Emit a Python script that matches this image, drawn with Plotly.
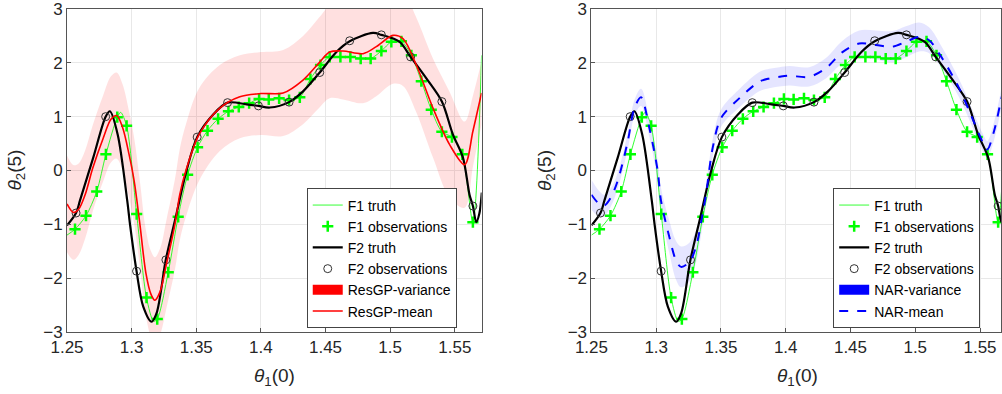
import plotly.graph_objects as go

# ---------------- data ----------------
# F1 observations (green +)
f1_obs_x = [1.2562, 1.2647, 1.2730, 1.2801, 1.2889, 1.2961, 1.3039, 1.3115, 1.3198, 1.3283,
            1.3360, 1.3433, 1.3510, 1.3587, 1.3669, 1.3749, 1.3829, 1.3909, 1.3986, 1.4061,
            1.4141, 1.4218, 1.4301, 1.4383, 1.4461, 1.4532, 1.4615, 1.4692, 1.4772, 1.4849,
            1.4932, 1.5009, 1.5087, 1.5164, 1.5241, 1.5318, 1.5400, 1.5478, 1.5558, 1.5640]
f1_obs_y = [-1.09, -0.84, -0.39, 0.30, 0.99, 0.83, -0.81, -2.36, -2.76, -1.89,
            -0.86, -0.08, 0.43, 0.74, 0.96, 1.10, 1.18, 1.25, 1.33, 1.32,
            1.34, 1.31, 1.36, 1.70, 1.96, 2.11, 2.11, 2.11, 2.08, 2.08,
            2.22, 2.39, 2.40, 2.14, 1.66, 1.13, 0.72, 0.62, 0.30, -0.96]

# F1 truth (thin green line)
f1_x = [1.2500, 1.2562, 1.2647, 1.2730, 1.2801, 1.2889, 1.2915, 1.2961, 1.3039, 1.3115,
        1.3170, 1.3198, 1.3283, 1.3360, 1.3433, 1.3510, 1.3587, 1.3669, 1.3749, 1.3829,
        1.3909, 1.3986, 1.4061, 1.4141, 1.4218, 1.4301, 1.4383, 1.4461, 1.4532, 1.4615,
        1.4692, 1.4772, 1.4849, 1.4932, 1.5009, 1.5087, 1.5164, 1.5241, 1.5318, 1.5400,
        1.5478, 1.5558, 1.5640, 1.5707]
f1_y = [-1.20, -1.09, -0.84, -0.39, 0.30, 0.99, 1.08, 0.83, -0.81, -2.36,
        -2.80, -2.76, -1.89, -0.86, -0.08, 0.43, 0.74, 0.96, 1.10, 1.18,
        1.25, 1.33, 1.32, 1.34, 1.31, 1.36, 1.70, 1.96, 2.11, 2.11,
        2.11, 2.08, 2.08, 2.22, 2.39, 2.40, 2.14, 1.66, 1.13, 0.72,
        0.62, 0.30, -0.96, 2.14]

# F2 observations (black circles)
f2_obs_x = [1.2570, 1.2799, 1.3038, 1.3265, 1.3507, 1.3742, 1.3981, 1.4218, 1.4455, 1.4687,
            1.4932, 1.5158, 1.5400, 1.5640]
f2_obs_y = [-0.79, 1.00, -1.87, -1.66, 0.62, 1.26, 1.20, 1.27, 1.82, 2.41,
            2.52, 2.11, 1.28, -0.66]

# F2 truth (thick black line)
f2_x = [1.2500, 1.2570, 1.2600, 1.2703, 1.2799, 1.2832, 1.2892, 1.2966, 1.2987, 1.3038,
        1.3090, 1.3154, 1.3193, 1.3265, 1.3335, 1.3425, 1.3507, 1.3631, 1.3742, 1.3889,
        1.3981, 1.4069, 1.4218, 1.4326, 1.4455, 1.4584, 1.4687, 1.4867, 1.4932, 1.5073,
        1.5158, 1.5280, 1.5400, 1.5485, 1.5563, 1.5614, 1.5640, 1.5666, 1.5690, 1.5709]
f2_y = [-1.02, -0.79, -0.56, 0.24, 1.00, 1.10, 0.67, -0.56, -0.99, -1.87,
        -2.53, -2.81, -2.65, -1.65, -0.93, 0.00, 0.62, 1.04, 1.26, 1.23,
        1.20, 1.17, 1.27, 1.47, 1.82, 2.20, 2.40, 2.555, 2.52, 2.39,
        2.11, 1.71, 1.28, 0.67, 0.24, -0.45, -0.66, -0.96, -0.80, -0.41]

# ResGP mean and standard deviation
res_x = [1.2500, 1.2550, 1.2590, 1.2640, 1.2700, 1.2780, 1.2840, 1.2884, 1.2930, 1.2980,
         1.3020, 1.3064, 1.3110, 1.3150, 1.3180, 1.3220, 1.3270, 1.3335, 1.3373, 1.3420,
         1.3522, 1.3682, 1.3837, 1.4000, 1.4172, 1.4326, 1.4450, 1.4532, 1.4635, 1.4790,
         1.4893, 1.5022, 1.5099, 1.5202, 1.5331, 1.5460, 1.5576, 1.5640, 1.5692, 1.5707]
res_mean = [-0.62, -0.78, -0.72, -0.45, 0.05, 0.60, 0.95, 1.02, 0.80, 0.30,
            -0.20, -1.00, -1.90, -2.30, -2.41, -2.25, -1.73, -1.00, -0.44, 0.00,
            0.67, 1.16, 1.37, 1.43, 1.44, 1.68, 2.00, 2.20, 2.22, 2.17,
            2.30, 2.51, 2.45, 1.96, 1.16, 0.48, 0.11, 0.73, 1.28, 1.44]
res_std = [0.90, 0.88, 0.85, 0.82, 0.80, 0.80, 0.80, 0.80, 0.80, 0.80,
           0.80, 0.80, 0.80, 0.80, 0.80, 0.80, 0.82, 0.84, 0.85, 0.86,
           0.86, 0.80, 0.77, 0.77, 0.80, 0.82, 0.84, 0.86, 0.90, 0.92,
           0.92, 0.90, 0.88, 0.88, 0.92, 0.98, 0.80, 0.66, 0.60, 0.58]

# NAR mean and standard deviation
nar_x = [1.2500, 1.2560, 1.2600, 1.2650, 1.2703, 1.2780, 1.2832, 1.2883, 1.2947, 1.3011,
         1.3037, 1.3102, 1.3153, 1.3192, 1.3256, 1.3307, 1.3358, 1.3385, 1.3436, 1.3500,
         1.3641, 1.3796, 1.3873, 1.3950, 1.4027, 1.4181, 1.4310, 1.4438, 1.4567, 1.4696,
         1.4824, 1.4927, 1.5030, 1.5107, 1.5209, 1.5338, 1.5441, 1.5518, 1.5556, 1.5608,
         1.5660, 1.5707]
nar_mean = [-0.45, -0.62, -0.65, -0.50, -0.19, 0.54, 1.16, 1.36, 0.79, 0.00,
            -0.56, -1.24, -1.67, -1.79, -1.70, -1.42, -0.81, -0.44, 0.42, 0.97,
            1.34, 1.65, 1.71, 1.74, 1.76, 1.74, 1.90, 2.20, 2.36, 2.33,
            2.30, 2.39, 2.48, 2.42, 2.08, 1.53, 0.97, 0.54, 0.39, 0.73,
            1.28, 1.80]
nar_std = [0.28, 0.24, 0.20, 0.17, 0.15, 0.15, 0.15, 0.16, 0.17, 0.20,
           0.24, 0.30, 0.36, 0.38, 0.36, 0.30, 0.22, 0.18, 0.16, 0.16,
           0.17, 0.18, 0.18, 0.18, 0.18, 0.18, 0.19, 0.21, 0.24, 0.27,
           0.29, 0.29, 0.27, 0.24, 0.20, 0.17, 0.16, 0.16, 0.16, 0.17,
           0.18, 0.20]

x_ticks = [1.25, 1.3, 1.35, 1.4, 1.45, 1.5, 1.55]
x_tick_text = ["1.25", "1.3", "1.35", "1.4", "1.45", "1.5", "1.55"]
y_ticks = [-3, -2, -1, 0, 1, 2, 3]

legend_left = ["F1 truth", "F1 observations", "F2 truth", "F2 observations", "ResGP-variance", "ResGP-mean"]
legend_right = ["F1 truth", "F1 observations", "F2 truth", "F2 observations", "NAR-variance", "NAR-mean"]

# ---------------- figure ----------------
FONT = "Liberation Sans, Arial, Helvetica, sans-serif"
GREEN = "rgb(0,255,0)"
fig = go.Figure()

res_up = [m + s for m, s in zip(res_mean, res_std)]
res_lo = [m - s for m, s in zip(res_mean, res_std)]
nar_up = [m + s for m, s in zip(nar_mean, nar_std)]
nar_lo = [m - s for m, s in zip(nar_mean, nar_std)]


def add_panel(xa, ya, leg, names, band_x, lo, up, band_fill, mean_x, mean_y, mean_line, legend_fill):
    # variance band (drawn first, under the lines)
    fig.add_trace(go.Scatter(x=band_x, y=lo, mode="lines", line=dict(width=0, shape="spline"),
                             showlegend=False, hoverinfo="skip", xaxis=xa, yaxis=ya, legend=leg))
    fig.add_trace(go.Scatter(x=band_x, y=up, mode="lines", line=dict(width=0, shape="spline"),
                             fill="tonexty", fillcolor=band_fill, showlegend=False,
                             hoverinfo="skip", xaxis=xa, yaxis=ya, legend=leg))
    # F1 truth
    fig.add_trace(go.Scatter(x=f1_x, y=f1_y, mode="lines", name=names[0],
                             line=dict(color=GREEN, width=0.8, shape="spline", smoothing=0.8),
                             xaxis=xa, yaxis=ya, legend=leg, legendrank=1))
    # F1 observations
    fig.add_trace(go.Scatter(x=f1_obs_x, y=f1_obs_y, mode="markers", name=names[1],
                             marker=dict(symbol="cross-thin", size=8, color=GREEN,
                                         line=dict(color=GREEN, width=2.5)),
                             xaxis=xa, yaxis=ya, legend=leg, legendrank=2))
    # F2 truth
    fig.add_trace(go.Scatter(x=f2_x, y=f2_y, mode="lines", name=names[2],
                             line=dict(color="black", width=2.2, shape="spline", smoothing=0.9),
                             xaxis=xa, yaxis=ya, legend=leg, legendrank=3))
    # F2 observations
    fig.add_trace(go.Scatter(x=f2_obs_x, y=f2_obs_y, mode="markers", name=names[3],
                             marker=dict(symbol="circle-open", size=8, color="#333",
                                         line=dict(color="#333", width=1)),
                             xaxis=xa, yaxis=ya, legend=leg, legendrank=4))
    # variance legend entry (solid colour block)
    fig.add_trace(go.Scatter(x=[None], y=[None], mode="lines", name=names[4],
                             line=dict(color=legend_fill, width=10),
                             xaxis=xa, yaxis=ya, legend=leg, legendrank=5))
    # mean
    fig.add_trace(go.Scatter(x=mean_x, y=mean_y, mode="lines", name=names[5],
                             line=mean_line, xaxis=xa, yaxis=ya, legend=leg, legendrank=6))


add_panel("x", "y", "legend", legend_left, res_x, res_lo, res_up, "rgba(255,0,0,0.12)",
          res_x, res_mean, dict(color="red", width=1.6, shape="spline", smoothing=0.9), "red")
add_panel("x2", "y2", "legend2", legend_right, nar_x, nar_lo, nar_up, "rgba(0,0,255,0.10)",
          nar_x, nar_mean, dict(color="blue", width=2, dash="dash", shape="spline", smoothing=0.9), "blue")

axis_common = dict(showgrid=True, gridcolor="#e8e8e8", gridwidth=1, zeroline=False,
                   showline=True, linecolor="#555", linewidth=1, mirror=True,
                   ticks="inside", ticklen=4, tickcolor="#555", ticklabeloverflow="allow",
                   tickfont=dict(family=FONT, size=17, color="#262626"))

L, R, T, B = 67, 0, 7, 62
W, H = 1002, 394
pw = W - L - R

legend_common = dict(xanchor="left", yanchor="middle", bgcolor="white", bordercolor="#444",
                     borderwidth=1, font=dict(family=FONT, size=14, color="black"),
                     tracegroupgap=0, itemwidth=30, traceorder="normal")
leg_y = (332 - 258) / 325

fig.update_layout(
    width=W, height=H,
    margin=dict(l=L, r=R, t=T, b=B),
    paper_bgcolor="white", plot_bgcolor="white",
    font=dict(family=FONT, color="#262626"),
    xaxis=dict(domain=[0, (482 - L) / pw], range=[1.25, 1.5707], tickvals=x_ticks,
               ticktext=x_tick_text, **axis_common),
    yaxis=dict(domain=[0, 1], range=[-3, 3], tickvals=y_ticks, **axis_common),
    xaxis2=dict(domain=[(592 - L) / pw, 1.0], range=[1.25, 1.5662], tickvals=x_ticks,
                ticktext=x_tick_text, anchor="y2", **axis_common),
    yaxis2=dict(domain=[0, 1], range=[-3, 3], tickvals=y_ticks, anchor="x2", **axis_common),
    legend=dict(x=(307 - L) / pw, y=leg_y, **legend_common),
    legend2=dict(x=(834 - L) / pw, y=leg_y, **legend_common),
    showlegend=True,
)

title_font = dict(family=FONT, size=19, color="#262626")
ylab = "<i>θ</i><sub>2</sub>(5)"
xlab = "<i>θ</i><sub>1</sub>(0)"
fig.add_annotation(text=ylab, xref="paper", yref="paper", x=(15 - L) / pw, y=0.5,
                   showarrow=False, textangle=-90, font=title_font, xanchor="center", yanchor="middle")
fig.add_annotation(text=ylab, xref="paper", yref="paper", x=(546 - L) / pw, y=0.5,
                   showarrow=False, textangle=-90, font=title_font, xanchor="center", yanchor="middle")
fig.add_annotation(text=xlab, xref="paper", yref="paper", x=(274.5 - L) / pw, y=(332 - 377) / 325,
                   showarrow=False, font=title_font, xanchor="center", yanchor="middle")
fig.add_annotation(text=xlab, xref="paper", yref="paper", x=(798 - L) / pw, y=(332 - 377) / 325,
                   showarrow=False, font=title_font, xanchor="center", yanchor="middle")

fig.write_html("out.html", config={"displayModeBar": False},
               post_script="document.body.style.margin='0';document.body.style.padding='0';"
                           "document.body.style.overflow='hidden';")
